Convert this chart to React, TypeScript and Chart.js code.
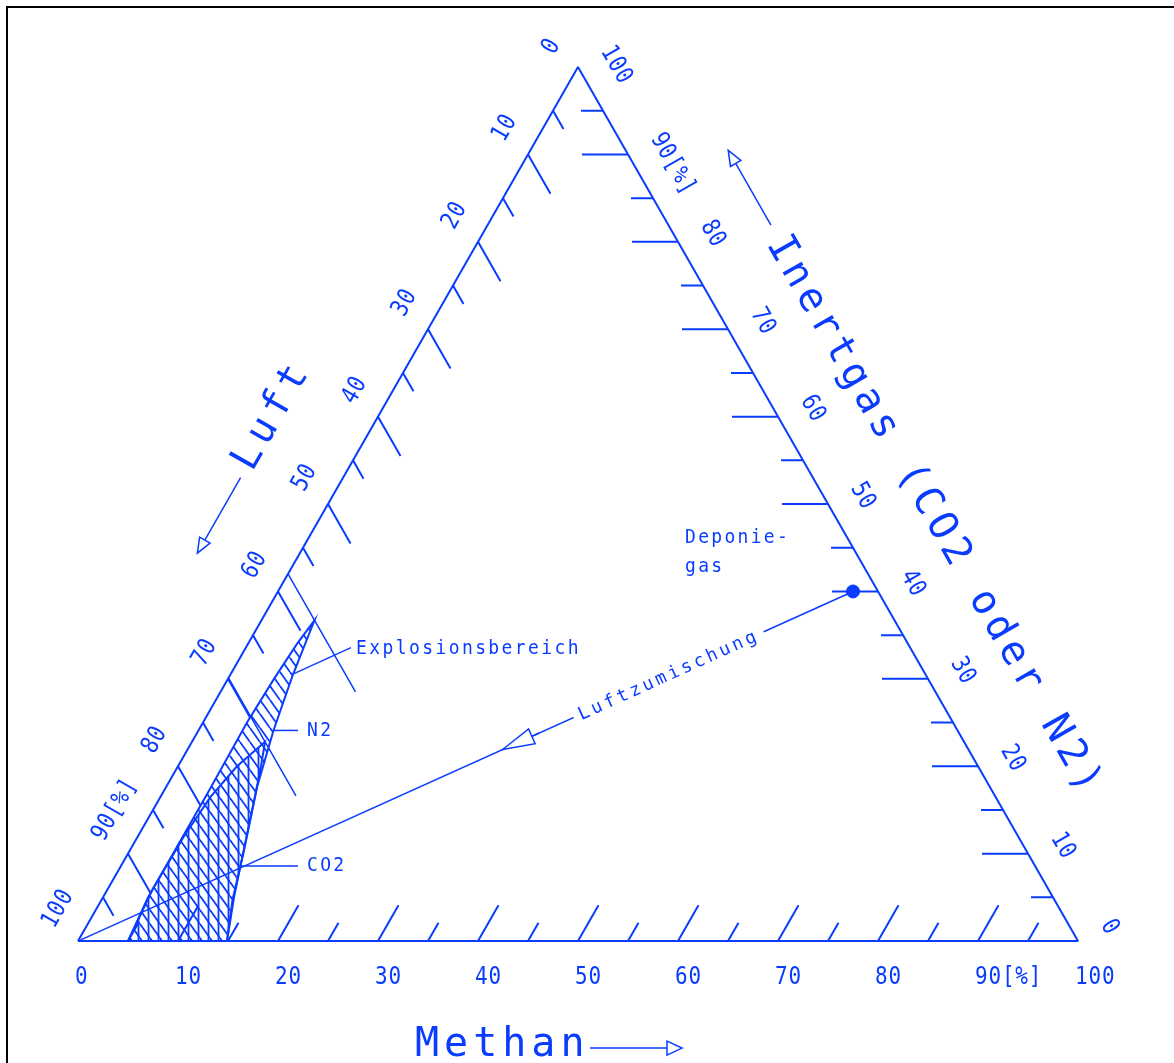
import React, { useEffect, useRef } from 'react';
import { Chart, registerables } from 'chart.js';

Chart.register(...registerables);

const BLUE = '#0a3cff';
const MONO = '"DejaVu Sans Mono", "Liberation Mono", monospace';

// ---- axis ticks / labels (percent) ----
const TICK_VALUES = [5, 10, 15, 20, 25, 30, 35, 40, 45, 50, 55, 60, 65, 70, 75, 80, 85, 90, 95];
const LABEL_VALUES = [0, 10, 20, 30, 40, 50, 60, 70, 80, 90, 100];
const LABEL_TEXTS = ['0', '10', '20', '30', '40', '50', '60', '70', '80', '90[%]', '100'];

// ---- explosion range with N2 (methane %, inert gas %) ----
const N2_LOWER_METHAN = [5.0, 4.5, 4.5, 4.5, 4.4, 4.6, 4.9, 5.3];
const N2_LOWER_INERT = [0, 5, 11, 17, 25, 30, 34, 36.7];
const N2_UPPER_METHAN = [6.3, 7.5, 9.1, 11.5, 13.1, 14.9];
const N2_UPPER_INERT = [30.2, 24.1, 17.6, 10.1, 4.7, 0];

// ---- explosion range with CO2 ----
const CO2_LOWER_METHAN = [5.0, 4.5, 4.6, 5.0, 5.9, 7.3];
const CO2_LOWER_INERT = [0, 6, 12, 16.5, 20, 22.8];
const CO2_UPPER_METHAN = [8.3, 9.6, 11.5, 13.1, 14.9];
const CO2_UPPER_INERT = [20, 16, 10, 5, 0];

// ---- landfill gas composition ----
const DEPONIEGAS_METHAN = 57.5;
const DEPONIEGAS_INERT = 40;

// tick lengths in percent units
const BOTTOM_TICK = [4.1, 2.1];
const LEFT_TICK = [4.5, 2.1];
const RIGHT_TICK = [4.6, 2.2];
const ISO_LINE_LENGTH = 13.5;

type XY = { x: number; y: number | null };
// ternary (methane, inert) -> cartesian data coordinates
const tern = (methan: number, inert: number): XY => ({ x: methan + inert / 2, y: inert });

function polygon(lm: number[], li: number[], um: number[], ui: number[]): XY[] {
  const pts = lm.map((m, k) => tern(m, li[k]));
  um.forEach((m, k) => pts.push(tern(m, ui[k])));
  pts.push(tern(lm[0], li[0]));
  return pts;
}

function tickSegments(): XY[] {
  const out: XY[] = [];
  const gap = (p: XY) => out.push({ x: p.x, y: null });
  for (const v of TICK_VALUES) {
    const major = v % 10 === 0;
    const lb = major ? BOTTOM_TICK[0] : BOTTOM_TICK[1];
    const ll = major ? LEFT_TICK[0] : LEFT_TICK[1];
    const lr = major ? RIGHT_TICK[0] : RIGHT_TICK[1];
    const a = tern(v, 0), b = tern(v, lb);
    out.push(a, b); gap(b);
    const c = tern(0, 100 - v), d = tern(ll, 100 - v - ll);
    out.push(c, d); gap(d);
    const e = tern(100 - v, v), f = tern(100 - v - lr, v);
    out.push(e, f); gap(f);
  }
  return out;
}

function isoLuftLines(): XY[] {
  const out: XY[] = [];
  const apexes = [
    [N2_LOWER_METHAN[N2_LOWER_METHAN.length - 1], N2_LOWER_INERT[N2_LOWER_INERT.length - 1]],
    [CO2_LOWER_METHAN[CO2_LOWER_METHAN.length - 1], CO2_LOWER_INERT[CO2_LOWER_INERT.length - 1]],
  ];
  for (const [m, i] of apexes) {
    const luft = 100 - m - i;
    const s = tern(0, 100 - luft);
    const e = tern(ISO_LINE_LENGTH, 100 - luft - ISO_LINE_LENGTH);
    out.push(s, e, { x: e.x, y: null });
  }
  return out;
}

function makeHatch(kind: 'diag' | 'vert'): CanvasPattern | string {
  const c = document.createElement('canvas');
  const g = c.getContext('2d');
  if (!g) return BLUE;
  if (kind === 'vert') {
    c.width = 10; c.height = 10;
    g.strokeStyle = BLUE; g.lineWidth = 1.8;
    g.beginPath(); g.moveTo(8.5, 0); g.lineTo(8.5, 10); g.stroke();
  } else {
    c.width = 10; c.height = 14;
    g.strokeStyle = BLUE; g.lineWidth = 1.8;
    for (const off of [-10, 0, 10]) {
      g.beginPath(); g.moveTo(off, 0); g.lineTo(off + 10, 14); g.stroke();
    }
  }
  return g.createPattern(c, 'repeat') || BLUE;
}

const textPlugin = {
  id: 'ternaryText',
  afterDatasetsDraw(chart: any) {
    const ctx: CanvasRenderingContext2D = chart.ctx;
    const xs = chart.scales.x, ys = chart.scales.y;
    const px = (m: number, i: number) => ({ x: xs.getPixelForValue(m + i / 2), y: ys.getPixelForValue(i) });
    const BL = px(0, 0), BR = px(100, 0), TOP = px(0, 100);
    const unit = (a: any, b: any) => { const dx = b.x - a.x, dy = b.y - a.y, l = Math.hypot(dx, dy); return { x: dx / l, y: dy / l }; };
    const leftUp = unit(BL, TOP); const leftOut = { x: leftUp.y, y: -leftUp.x };
    const rightDown = unit(TOP, BR); const rightOut = { x: rightDown.y, y: -rightDown.x };
    const angL = Math.atan2(leftUp.y, leftUp.x);
    const angR = Math.atan2(rightDown.y, rightDown.x);
    const along = (o: any, d: any, n: any, a: number, b: number) => ({ x: o.x + d.x * a + n.x * b, y: o.y + d.y * a + n.y * b });

    const text = (s: string, x: number, y: number, angle: number, font: string, spacing: string,
      align: CanvasTextAlign = 'left', stretch = 1) => {
      ctx.save();
      ctx.translate(x, y); ctx.rotate(angle); ctx.scale(1, stretch);
      ctx.font = font; (ctx as any).letterSpacing = spacing;
      ctx.fillStyle = BLUE; ctx.textAlign = align; ctx.textBaseline = 'middle';
      ctx.fillText(s, 0, 0);
      ctx.restore();
    };
    const arrow = (x1: number, y1: number, x2: number, y2: number, hl: number, hw: number, lw: number) => {
      const l = Math.hypot(x2 - x1, y2 - y1); const ux = (x2 - x1) / l, uy = (y2 - y1) / l;
      const bx = x2 - ux * hl, by = y2 - uy * hl;
      ctx.save(); ctx.strokeStyle = BLUE; ctx.lineWidth = lw;
      ctx.beginPath(); ctx.moveTo(x1, y1); ctx.lineTo(bx, by); ctx.stroke();
      ctx.beginPath(); ctx.moveTo(x2, y2); ctx.lineTo(bx - uy * hw, by + ux * hw); ctx.lineTo(bx + uy * hw, by - ux * hw); ctx.closePath();
      ctx.fillStyle = '#ffffff'; ctx.fill(); ctx.stroke();
      ctx.restore();
    };

    const tickFont = `21px ${MONO}`;
    LABEL_VALUES.forEach((v, k) => {
      const s = LABEL_TEXTS[k];
      const b = px(v, 0);
      text(s, b.x - 3, b.y + 36, 0, tickFont, '0.8px', 'left', 1.18);
      const l = along(px(0, 100 - v), leftUp, leftOut, -2, 33);
      text(s, l.x, l.y, angL, tickFont, '0.8px', 'left', 1.18);
      const r = along(px(100 - v, v), rightDown, rightOut, -3, 34);
      text(s, r.x, r.y, angR, tickFont, '0.8px', 'left', 1.18);
    });

    // axis titles
    const bigFont = `40px ${MONO}`;
    text('Methan', BL.x + 337, BL.y + 105, 0, bigFont, '5px');
    arrow(BL.x + 512, BL.y + 107, BL.x + 604, BL.y + 107, 15, 7, 1.5);

    const lc = along(BL, leftUp, leftOut, 553, 92);
    text('Luft', lc.x, lc.y, angL, bigFont, '6px', 'center');
    const la1 = along(BL, leftUp, leftOut, 483, 89), la2 = along(BL, leftUp, leftOut, 396, 89);
    arrow(la1.x, la1.y, la2.x, la2.y, 15, 6, 1.5);

    const ic = along(TOP, rightDown, rightOut, 567, 86);
    text('Inertgas (CO2 oder N2)', ic.x, ic.y, angR, bigFont, '5px', 'center');
    const ia1 = along(TOP, rightDown, rightOut, 233, 89), ia2 = along(TOP, rightDown, rightOut, 147, 89);
    arrow(ia1.x, ia1.y, ia2.x, ia2.y, 15, 6, 1.5);

    // annotations
    const smallFont = `18px ${MONO}`;
    ctx.save(); ctx.strokeStyle = BLUE; ctx.lineWidth = 1.5;
    const e1 = px(6.3, 30.6);
    ctx.beginPath(); ctx.moveTo(e1.x, e1.y); ctx.lineTo(e1.x + 57, e1.y - 26); ctx.stroke();
    const n1 = px(7.5, 24.1);
    ctx.beginPath(); ctx.moveTo(n1.x, n1.y); ctx.lineTo(BL.x + 220, n1.y); ctx.stroke();
    const c1 = px(12.0, 8.6);
    ctx.beginPath(); ctx.moveTo(c1.x, c1.y); ctx.lineTo(BL.x + 220, c1.y); ctx.stroke();
    ctx.restore();
    text('Explosionsbereich', e1.x + 62, e1.y - 25, 0, smallFont, '2.4px', 'left', 1.1);
    text('N2', BL.x + 229, n1.y, 0, smallFont, '2.3px', 'left', 1.1);
    text('CO2', BL.x + 229, c1.y, 0, smallFont, '2.3px', 'left', 1.1);

    const dp = px(DEPONIEGAS_METHAN, DEPONIEGAS_INERT);
    text('Deponie-', dp.x - 168, dp.y - 54, 0, smallFont, '2.3px', 'left', 1.1);
    text('gas', dp.x - 168, dp.y - 25, 0, smallFont, '2.3px', 'left', 1.1);

    // Luftzumischung label on the mixing line
    const ang = Math.atan2(dp.y - BL.y, dp.x - BL.x);
    const tpos = { x: BL.x + (dp.x - BL.x) * 0.762, y: BL.y + (dp.y - BL.y) * 0.762 };
    ctx.save();
    ctx.translate(tpos.x, tpos.y); ctx.rotate(ang);
    ctx.font = smallFont; (ctx as any).letterSpacing = '3.2px';
    const w = ctx.measureText('Luftzumischung').width;
    ctx.fillStyle = '#ffffff'; ctx.fillRect(-w / 2 - 6, -9, w + 12, 18);
    ctx.fillStyle = BLUE; ctx.textAlign = 'center'; ctx.textBaseline = 'middle';
    ctx.fillText('Luftzumischung', 0, 1);
    ctx.restore();
    const tip = { x: BL.x + (dp.x - BL.x) * 0.548, y: BL.y + (dp.y - BL.y) * 0.548 };
    const ux = Math.cos(ang), uy = Math.sin(ang);
    arrow(tip.x + ux * 40, tip.y + uy * 40, tip.x, tip.y, 32, 8, 1.5);
  },
};

export default function App() {
  const ref = useRef<HTMLCanvasElement | null>(null);
  useEffect(() => {
    if (!ref.current) return;
    const line = (data: XY[], width: number, extra: any = {}) => ({
      data, showLine: true, borderColor: BLUE, borderWidth: width, pointRadius: 0,
      fill: false, spanGaps: false, ...extra,
    });
    const chart = new Chart(ref.current, {
      type: 'scatter',
      data: {
        datasets: [
          line([tern(0, 0), tern(100, 0), tern(0, 100), tern(0, 0)], 2, { borderJoinStyle: 'bevel' }),
          line(tickSegments(), 2),
          line(isoLuftLines(), 1.5),
          line([tern(0, 0), tern(DEPONIEGAS_METHAN, DEPONIEGAS_INERT)], 1.5),
          line(polygon(CO2_LOWER_METHAN, CO2_LOWER_INERT, CO2_UPPER_METHAN, CO2_UPPER_INERT), 2,
            { fill: 'shape', backgroundColor: makeHatch('vert') }),
          line(polygon(N2_LOWER_METHAN, N2_LOWER_INERT, N2_UPPER_METHAN, N2_UPPER_INERT), 2,
            { fill: 'shape', backgroundColor: makeHatch('diag') }),
          {
            data: [tern(DEPONIEGAS_METHAN, DEPONIEGAS_INERT)], showLine: false, pointRadius: 6.5,
            pointBackgroundColor: BLUE, pointBorderColor: BLUE,
          },
        ] as any,
      },
      options: {
        responsive: false,
        animation: false,
        events: [],
        layout: { padding: 0, autoPadding: false },
        plugins: { legend: { display: false }, tooltip: { enabled: false } },
        elements: { line: { tension: 0 } },
        scales: {
          x: { type: 'linear', min: -7.8, max: 109.6, display: false },
          y: { type: 'linear', min: -13.95, max: 107.67, display: false },
        },
      } as any,
      plugins: [textPlugin],
    });
    return () => chart.destroy();
  }, []);
  return (
    <>
      <canvas ref={ref} width={1174} height={1063}
        style={{ position: 'absolute', left: 0, top: 0, width: 1174, height: 1063 }} />
      <div style={{
        position: 'absolute', left: 6, top: 6, width: 1168, height: 1057,
        borderLeft: '2px solid #000', borderTop: '2px solid #000', pointerEvents: 'none',
      }} />
    </>
  );
}
